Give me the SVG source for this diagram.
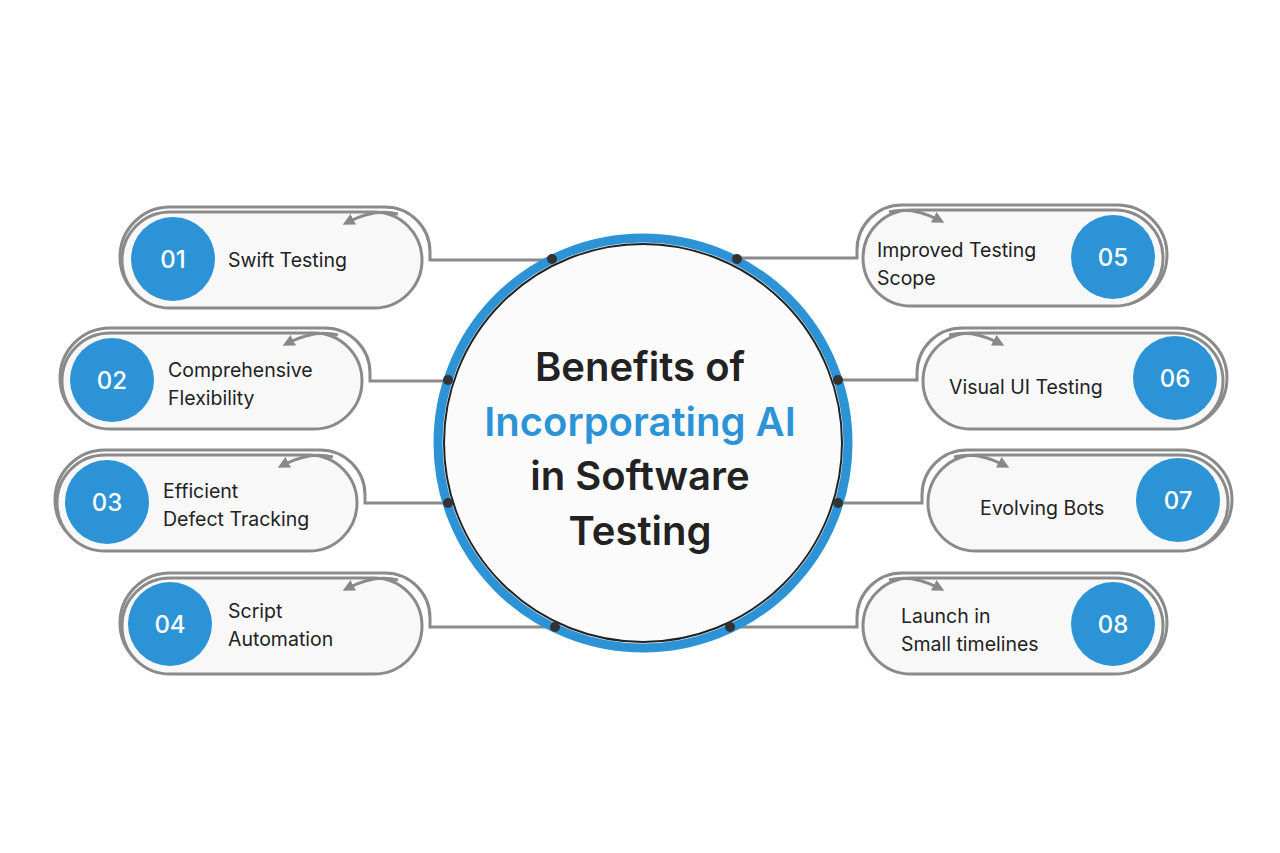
<svg xmlns="http://www.w3.org/2000/svg" width="1280" height="853" viewBox="0 0 1280 853">
<defs>
<marker id="ah" viewBox="0 0 10 10" refX="5" refY="5" markerWidth="4" markerHeight="4" orient="auto-start-reverse"><path d="M0 0L10 5L0 10z" fill="#888"/></marker>
<style>
.pill{fill:#f8f8f8;stroke:#8a8a8a;stroke-width:3}
.out{fill:none;stroke:#8a8a8a;stroke-width:3}
.arr{fill:none;stroke:#8a8a8a;stroke-width:3;marker-end:url(#ah)}
.num{fill:#2b93d6}
.nt{font-family:Inter,"Liberation Sans",sans-serif;font-size:24px;font-weight:500;fill:#fff;text-anchor:middle}
.lb{font-family:Inter,"Liberation Sans",sans-serif;font-size:19.5px;fill:#222}
.dot{fill:#333}
.ti{font-family:Inter,"Liberation Sans",sans-serif;font-size:40px;font-weight:600;fill:#222;text-anchor:middle}
</style>
</defs>
<rect width="1280" height="853" fill="#fff"/>
<g id="connectors">
<path class="out" d="M170 307A50 50 0 0 1 170 207H385A45 45 0 0 1 430 252V260H552"/>
<path class="out" d="M110 428A50 50 0 0 1 110 328H325A45 45 0 0 1 370 373V381H448"/>
<path class="out" d="M105 550A50 50 0 0 1 105 450H320A45 45 0 0 1 365 495V503H448"/>
<path class="out" d="M170 673A50 50 0 0 1 170 573H385A45 45 0 0 1 430 618V627H555"/>
<path class="out" d="M1117 305A50 50 0 0 0 1117 205H902A45 45 0 0 0 857 250V258H737"/>
<path class="out" d="M1177 428A50 50 0 0 0 1177 328H962A45 45 0 0 0 917 373V380H838"/>
<path class="out" d="M1182 550A50 50 0 0 0 1182 450H967A45 45 0 0 0 922 495V503H838"/>
<path class="out" d="M1117 673A50 50 0 0 0 1117 573H902A45 45 0 0 0 857 618V627H730"/>
</g>
<g id="center">
<circle cx="643" cy="443" r="205" fill="#fbfbfb" stroke="#2b93d6" stroke-width="9"/>
<circle cx="643" cy="443" r="199" fill="none" stroke="#222" stroke-width="2"/>
<text class="ti" x="640" y="381">Benefits of</text>
<text class="ti" x="640" y="436" style="fill:#2b93d6">Incorporating AI</text>
<text class="ti" x="640" y="490">in Software</text>
<text class="ti" x="640" y="545">Testing</text>
<circle class="dot" cx="552" cy="259" r="5"/><circle class="dot" cx="448" cy="380" r="5"/>
<circle class="dot" cx="448" cy="503" r="5"/><circle class="dot" cx="555" cy="627" r="5"/>
<circle class="dot" cx="737" cy="259" r="5"/><circle class="dot" cx="838" cy="380" r="5"/>
<circle class="dot" cx="838" cy="503" r="5"/><circle class="dot" cx="730" cy="627" r="5"/>
</g>
<g id="n01"><rect class="pill" x="122" y="212" width="300" height="96" rx="48"/><path class="arr" d="M398 214Q375 208 348 222"/><circle class="num" cx="173" cy="259" r="42"/><text class="nt" x="173" y="268">01</text><text class="lb" x="228" y="267">Swift Testing</text></g>
<g id="n02"><rect class="pill" x="62" y="333" width="300" height="96" rx="48"/><path class="arr" d="M338 335Q315 329 288 343"/><circle class="num" cx="112" cy="380" r="42"/><text class="nt" x="112" y="389">02</text><text class="lb" x="168" y="377">Comprehensive</text><text class="lb" x="168" y="405">Flexibility</text></g>
<g id="n03"><rect class="pill" x="57" y="455" width="300" height="96" rx="48"/><path class="arr" d="M333 457Q310 451 283 465"/><circle class="num" cx="107" cy="502" r="42"/><text class="nt" x="107" y="511">03</text><text class="lb" x="163" y="498">Efficient</text><text class="lb" x="163" y="526">Defect Tracking</text></g>
<g id="n04"><rect class="pill" x="122" y="578" width="300" height="96" rx="48"/><path class="arr" d="M398 580Q375 574 348 588"/><circle class="num" cx="170" cy="624" r="42"/><text class="nt" x="170" y="633">04</text><text class="lb" x="228" y="618">Script</text><text class="lb" x="228" y="646">Automation</text></g>
<g id="n05"><rect class="pill" x="863" y="210" width="300" height="96" rx="48"/><path class="arr" d="M889 212Q912 206 939 220"/><circle class="num" cx="1113" cy="257" r="42"/><text class="nt" x="1113" y="266">05</text><text class="lb" x="877" y="257">Improved Testing</text><text class="lb" x="877" y="285">Scope</text></g>
<g id="n06"><rect class="pill" x="923" y="333" width="300" height="96" rx="48"/><path class="arr" d="M949 335Q972 329 999 343"/><circle class="num" cx="1175" cy="378" r="42"/><text class="nt" x="1175" y="387">06</text><text class="lb" x="949" y="394">Visual UI Testing</text></g>
<g id="n07"><rect class="pill" x="928" y="455" width="300" height="96" rx="48"/><path class="arr" d="M954 457Q977 451 1004 465"/><circle class="num" cx="1178" cy="500" r="42"/><text class="nt" x="1178" y="509">07</text><text class="lb" x="980" y="515">Evolving Bots</text></g>
<g id="n08"><rect class="pill" x="863" y="578" width="300" height="96" rx="48"/><path class="arr" d="M889 580Q912 574 939 588"/><circle class="num" cx="1113" cy="624" r="42"/><text class="nt" x="1113" y="633">08</text><text class="lb" x="901" y="623">Launch in</text><text class="lb" x="901" y="651">Small timelines</text></g>
</svg>
